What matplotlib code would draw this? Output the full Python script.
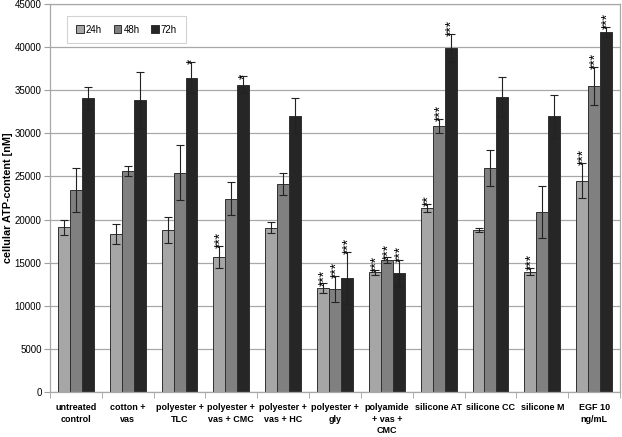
import matplotlib
matplotlib.use("Agg")
import matplotlib.pyplot as plt
import numpy as np

plt.rcParams['font.family'] = ['Liberation Sans', 'DejaVu Sans']

categories = ["untreated\ncontrol", "cotton +\nvas", "polyester +\nTLC", "polyester +\nvas + CMC",
              "polyester +\nvas + HC", "polyester +\ngly", "polyamide\n+ vas +\nCMC", "silicone AT",
              "silicone CC", "silicone M", "EGF 10\nng/mL"]
series = ["24h", "48h", "72h"]
v24 = [19100, 18350, 18750, 15650, 19050, 12050, 13900, 21350, 18800, 13950, 24500]
v48 = [23450, 25600, 25450, 22400, 24150, 11950, 15300, 30850, 25950, 20850, 35500]
v72 = [34100, 33850, 36450, 35650, 32050, 13200, 13800, 39900, 34200, 32000, 41750]
e24 = [850, 1150, 1500, 1250, 650, 550, 300, 450, 200, 400, 2050]
e48 = [2550, 600, 3200, 1900, 1300, 1500, 300, 800, 2100, 3000, 2200]
e72 = [1270, 3250, 1800, 950, 2050, 3050, 1500, 1650, 2350, 2500, 550]
s24 = ["", "", "", "***", "", "***", "***", "**", "", "***", "***"]
s48 = ["", "", "", "", "", "***", "***", "***", "", "", "***"]
s72 = ["", "", "*", "*", "", "***", "***", "***", "", "", "***"]
yticks = list(range(0, 45001, 5000))

colors = ["#a6a6a6", "#808080", "#262626"]
vals = [v24, v48, v72]
errs = [e24, e48, e72]
stars = [s24, s48, s72]

fig = plt.figure(figsize=(6.22, 4.37), dpi=100)
ax = fig.add_axes([50/622, 45/437, 570/622, 388/437])

x = np.arange(len(categories))
w = 0.23
for i in range(3):
    xi = x + (i - 1) * w
    ax.bar(xi, vals[i], width=w, color=colors[i], edgecolor="#303030", linewidth=0.7,
           label=series[i], zorder=2)
    ax.errorbar(xi, vals[i], yerr=errs[i], fmt="none", ecolor="#222222", elinewidth=0.8,
                capsize=3, capthick=0.8, zorder=3)
    for xx, v, e, s in zip(xi, vals[i], errs[i], stars[i]):
        if s:
            ax.text(xx + 0.03, v + e - 250, s, rotation=90, ha="center", va="bottom",
                    fontsize=10, zorder=4, linespacing=1)

ax.set_xlim(-0.5, len(categories) - 0.5)
ax.set_ylim(0, 45000)
ax.set_yticks(yticks)
ax.set_yticklabels([str(t) for t in yticks], fontsize=7)
ax.set_xticks(x)
ax.set_xticklabels(categories, fontsize=6.5, fontweight="bold", linespacing=1.35)
ax.tick_params(axis="x", which="major", length=0, pad=8)
ax.set_xticks(np.arange(-0.5, len(categories)), minor=True)
ax.tick_params(axis="x", which="minor", length=4, color="#a0a0a0", direction="out")
ax.tick_params(axis="y", length=4, color="#a0a0a0", direction="out", pad=2)

ax.yaxis.grid(True, color="#a8a8a8", linewidth=0.9, zorder=0)
ax.set_axisbelow(True)
for sp in ax.spines.values():
    sp.set_color("#a8a8a8")
    sp.set_linewidth(0.9)

ax.set_ylabel("cellular ATP-content [nM]", fontsize=7.8, fontweight="bold")
ax.yaxis.set_label_coords(-37/570, 0.5)

leg = ax.legend(loc="upper left", bbox_to_anchor=(0.022, 0.982), ncol=3, fontsize=7,
                frameon=True, fancybox=False, handlelength=0.8, handleheight=0.8,
                handletextpad=0.2, columnspacing=1.2, borderpad=0.9)
leg.get_frame().set_edgecolor("#c8c8c8")
leg.get_frame().set_linewidth(0.8)

fig.savefig("out.png", dpi=100)
